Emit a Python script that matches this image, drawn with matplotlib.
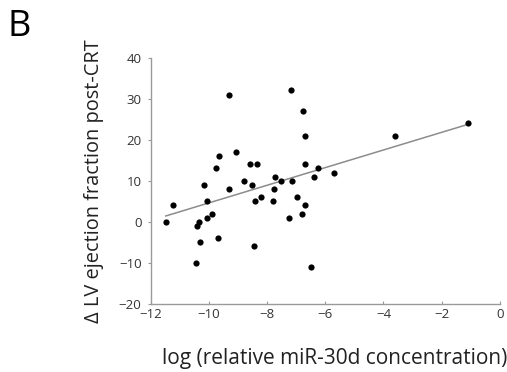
import numpy as np
import matplotlib.pyplot as plt

# log(relative miR-30d concentration) vs change in LV ejection fraction
log_mir30d = [-11.48, -11.24, -10.45, -10.40, -10.34, -10.30, -10.16, -10.06, -10.06,
              -9.88, -9.76, -9.69, -9.65, -9.30, -9.30, -9.06, -8.79, -8.58, -8.53,
              -8.45, -8.40, -8.35, -8.21, -7.80, -7.76, -7.74, -7.53, -7.24, -7.19,
              -7.14, -6.96, -6.81, -6.78, -6.69, -6.71, -6.69, -6.48, -6.40, -6.25,
              -5.69, -3.62, -1.09]
delta_lvef = [0, 4, -10, -1, 0, -5, 9, 5, 1,
              2, 13, -4, 16, 31, 8, 17, 10, 14, 9,
              -6, 5, 14, 6, 5, 8, 11, 10, 1, 32,
              10, 6, 2, 27, 21, 14, 4, -11, 11, 13,
              12, 21, 24]

x_ticks = [-12, -10, -8, -6, -4, -2, 0]
y_ticks = [-20, -10, 0, 10, 20, 30, 40]

plt.rcParams['font.family'] = ['Open Sans', 'DejaVu Sans']

fig = plt.figure(figsize=(5.07, 3.72), dpi=100)
ax = fig.add_axes([0.297, 0.183, 0.689, 0.662])

x = np.array(log_mir30d)
y = np.array(delta_lvef)
ax.scatter(x, y, s=20, color='black', zorder=3, linewidths=0)

# least squares trend line
slope, intercept = np.polyfit(x, y, 1)
xl = np.array([x.min(), x.max()])
ax.plot(xl, slope * xl + intercept, color='#8c8c8c', lw=1.1, zorder=2)

ax.set_xlim(-12, 0)
ax.set_ylim(-20, 40)
ax.set_xticks(x_ticks)
ax.set_yticks(y_ticks)
for s in ['top', 'right']:
    ax.spines[s].set_visible(False)
for s in ['left', 'bottom']:
    ax.spines[s].set_color('#9a9a9a')
    ax.spines[s].set_linewidth(1.0)
ax.tick_params(axis='y', direction='out', length=2.5, color='#9a9a9a', labelsize=9.5,
               labelcolor='#333333', pad=4)
ax.tick_params(axis='x', direction='in', length=2.5, color='#9a9a9a', labelsize=9.5,
               labelcolor='#333333', pad=3)

ax.set_ylabel('\u0394 LV ejection fraction post-CRT', fontsize=14.4, color='#222222',
              labelpad=11)
fig.text(0.66, 0.037, 'log (relative miR-30d concentration)', fontsize=15,
         color='#222222', ha='center', va='center')
fig.text(0.014, 0.928, 'B', fontsize=26, color='black', ha='left', va='center')

fig.savefig('out.png', dpi=100)
